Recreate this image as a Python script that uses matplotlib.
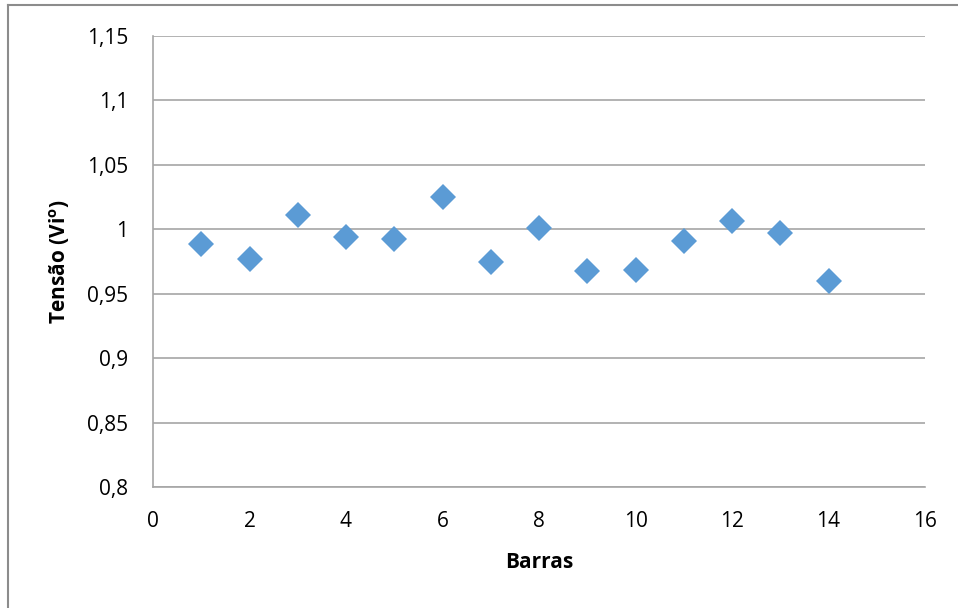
import numpy as np
import matplotlib
matplotlib.use("Agg")
import matplotlib.pyplot as plt
from matplotlib.lines import Line2D

plt.rcParams['font.family'] = ['Open Sans', 'DejaVu Sans']

# tensões por barra (p.u.)
barras = [1, 2, 3, 4, 5, 6, 7, 8, 9, 10, 11, 12, 13, 14]
tensao = [0.9883, 0.9772, 1.0114, 0.9940, 0.9922, 1.0251, 0.9746,
          1.0010, 0.9673, 0.9681, 0.9912, 1.0062, 0.9974, 0.9601]

xticks = [0, 2, 4, 6, 8, 10, 12, 14, 16]
yticks = [0.8, 0.85, 0.9, 0.95, 1.0, 1.05, 1.1, 1.15]
ylabels = ['0,8', '0,85', '0,9', '0,95', '1', '1,05', '1,1', '1,15']

fig = plt.figure(figsize=(9.58, 6.08), dpi=100)
ax = fig.add_axes([153/958, 1 - 487/608, (925-153)/958, (487-36)/608])

ax.plot(barras, tensao, 'D', color='#5b9bd5', markersize=13.5,
        markeredgewidth=0, zorder=3)

ax.set_xlim(0, 16)
ax.set_ylim(0.8, 1.15)
ax.set_xticks(xticks)
ax.set_yticks(yticks)
ax.set_yticklabels(ylabels)
ax.tick_params(length=0, labelsize=15)
ax.tick_params(axis='y', pad=18)
ax.tick_params(axis='x', pad=17)
ax.grid(axis='y', color='#a6a6a6', linewidth=1.2)
ax.set_axisbelow(True)
for side in ['top', 'right']:
    ax.spines[side].set_visible(False)
for side in ['left', 'bottom']:
    ax.spines[side].set_color('#a6a6a6')
    ax.spines[side].set_linewidth(1.2)

ax.set_xlabel('Barras', fontsize=15, fontweight='bold', va='center')
ax.xaxis.set_label_coords(0.5, -0.1685)
ax.set_ylabel('Tensão (Vi$^{\\mathregular{o}}$)', fontsize=15,
              fontweight='bold', va='center')
ax.yaxis.set_label_coords(-0.1205, 0.5)

# moldura externa (só topo e esquerda aparecem)
fig.add_artist(Line2D([7.5/958, 1], [1 - 5/608, 1 - 5/608],
                      transform=fig.transFigure, color='#8c8c8c', lw=1.5))
fig.add_artist(Line2D([7.5/958, 7.5/958], [0, 1 - 5/608],
                      transform=fig.transFigure, color='#8c8c8c', lw=1.5))

fig.savefig('out.png', dpi=100)
